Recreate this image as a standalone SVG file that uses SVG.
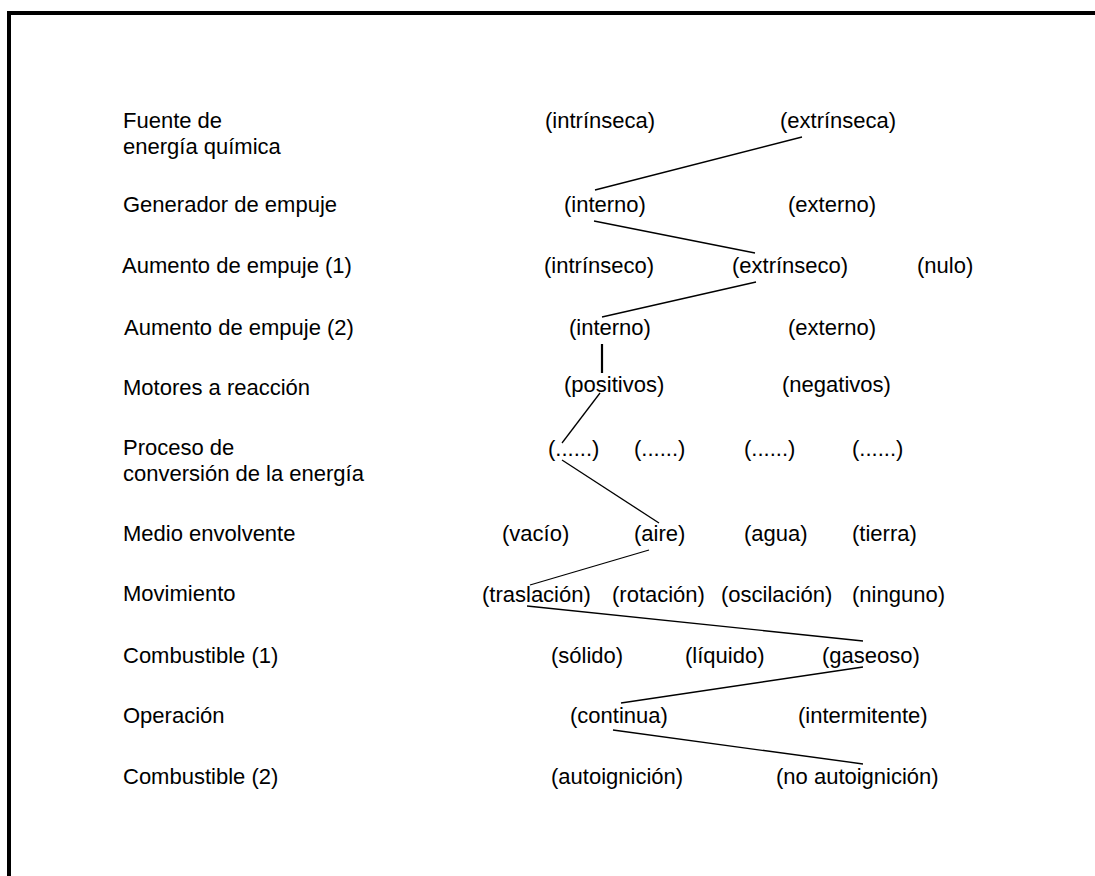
<svg xmlns="http://www.w3.org/2000/svg" width="1095" height="876" viewBox="0 0 1095 876">
  <style>
    text { font-family: "Liberation Sans", Arial, sans-serif; font-size: 22px; fill: #000; }
    .frame { fill: none; stroke: #000; stroke-width: 4; }
    .link { stroke: #000; stroke-width: 1.3; fill: none; }
    .link-bold { stroke: #000; stroke-width: 2.2; fill: none; }
  </style>
  <rect width="1095" height="876" fill="#fff"/>

  <!-- open frame: left and top edges -->
  <path class="frame" d="M9,876 V13 H1095"/>

  <!-- row labels -->
  <g id="labels">
    <g id="lbl-fuente"><text x="123" y="128">Fuente de</text><text x="123" y="154">energía química</text></g>
    <g id="lbl-generador"><text x="123" y="212">Generador de empuje</text></g>
    <g id="lbl-aumento1"><text x="122" y="273">Aumento de empuje (1)</text></g>
    <g id="lbl-aumento2"><text x="124" y="335">Aumento de empuje (2)</text></g>
    <g id="lbl-motores"><text x="123" y="395">Motores a reacción</text></g>
    <g id="lbl-proceso"><text x="123" y="455">Proceso de</text><text x="123" y="481">conversión de la energía</text></g>
    <g id="lbl-medio"><text x="123" y="541">Medio envolvente</text></g>
    <g id="lbl-movimiento"><text x="123" y="601">Movimiento</text></g>
    <g id="lbl-combustible1"><text x="123" y="663">Combustible (1)</text></g>
    <g id="lbl-operacion"><text x="123" y="723">Operación</text></g>
    <g id="lbl-combustible2"><text x="123" y="784">Combustible (2)</text></g>
  </g>

  <!-- options per row -->
  <g id="opt-fuente">
    <text x="545" y="128">(intrínseca)</text>
    <text x="780" y="128">(extrínseca)</text>
  </g>
  <g id="opt-generador">
    <text x="564" y="212">(interno)</text>
    <text x="788" y="212">(externo)</text>
  </g>
  <g id="opt-aumento1">
    <text x="544" y="273">(intrínseco)</text>
    <text x="732" y="273">(extrínseco)</text>
    <text x="917" y="273">(nulo)</text>
  </g>
  <g id="opt-aumento2">
    <text x="569" y="335">(interno)</text>
    <text x="788" y="335">(externo)</text>
  </g>
  <g id="opt-motores">
    <text x="564" y="392">(positivos)</text>
    <text x="782" y="392">(negativos)</text>
  </g>
  <g id="opt-proceso">
    <text x="548" y="456">(......)</text>
    <text x="634" y="456">(......)</text>
    <text x="744" y="456">(......)</text>
    <text x="852" y="456">(......)</text>
  </g>
  <g id="opt-medio">
    <text x="502" y="541">(vacío)</text>
    <text x="634" y="541">(aire)</text>
    <text x="744" y="541">(agua)</text>
    <text x="852" y="541">(tierra)</text>
  </g>
  <g id="opt-movimiento">
    <text x="482" y="602">(traslación)</text>
    <text x="612" y="602">(rotación)</text>
    <text x="721" y="602">(oscilación)</text>
    <text x="852" y="602">(ninguno)</text>
  </g>
  <g id="opt-combustible1">
    <text x="551" y="663">(sólido)</text>
    <text x="685" y="663">(líquido)</text>
    <text x="822" y="663">(gaseoso)</text>
  </g>
  <g id="opt-operacion">
    <text x="570" y="723">(continua)</text>
    <text x="798" y="723">(intermitente)</text>
  </g>
  <g id="opt-combustible2">
    <text x="551" y="784">(autoignición)</text>
    <text x="776" y="784">(no autoignición)</text>
  </g>

  <!-- selected path through the options -->
  <g id="connectors">
    <line class="link" x1="802" y1="137" x2="595" y2="190"/>
    <line class="link" x1="594" y1="221" x2="755" y2="253"/>
    <line class="link" x1="756" y1="282" x2="602" y2="317"/>
    <line class="link-bold" x1="602" y1="344" x2="602" y2="373"/>
    <line class="link" x1="600" y1="393" x2="562" y2="443"/>
    <line class="link" x1="562" y1="460" x2="659" y2="523"/>
    <line class="link" x1="649" y1="550" x2="530" y2="585"/>
    <line class="link" x1="527" y1="606" x2="863" y2="641"/>
    <line class="link" x1="863" y1="667" x2="621" y2="703"/>
    <line class="link" x1="613" y1="730" x2="863" y2="764"/>
  </g>
</svg>
